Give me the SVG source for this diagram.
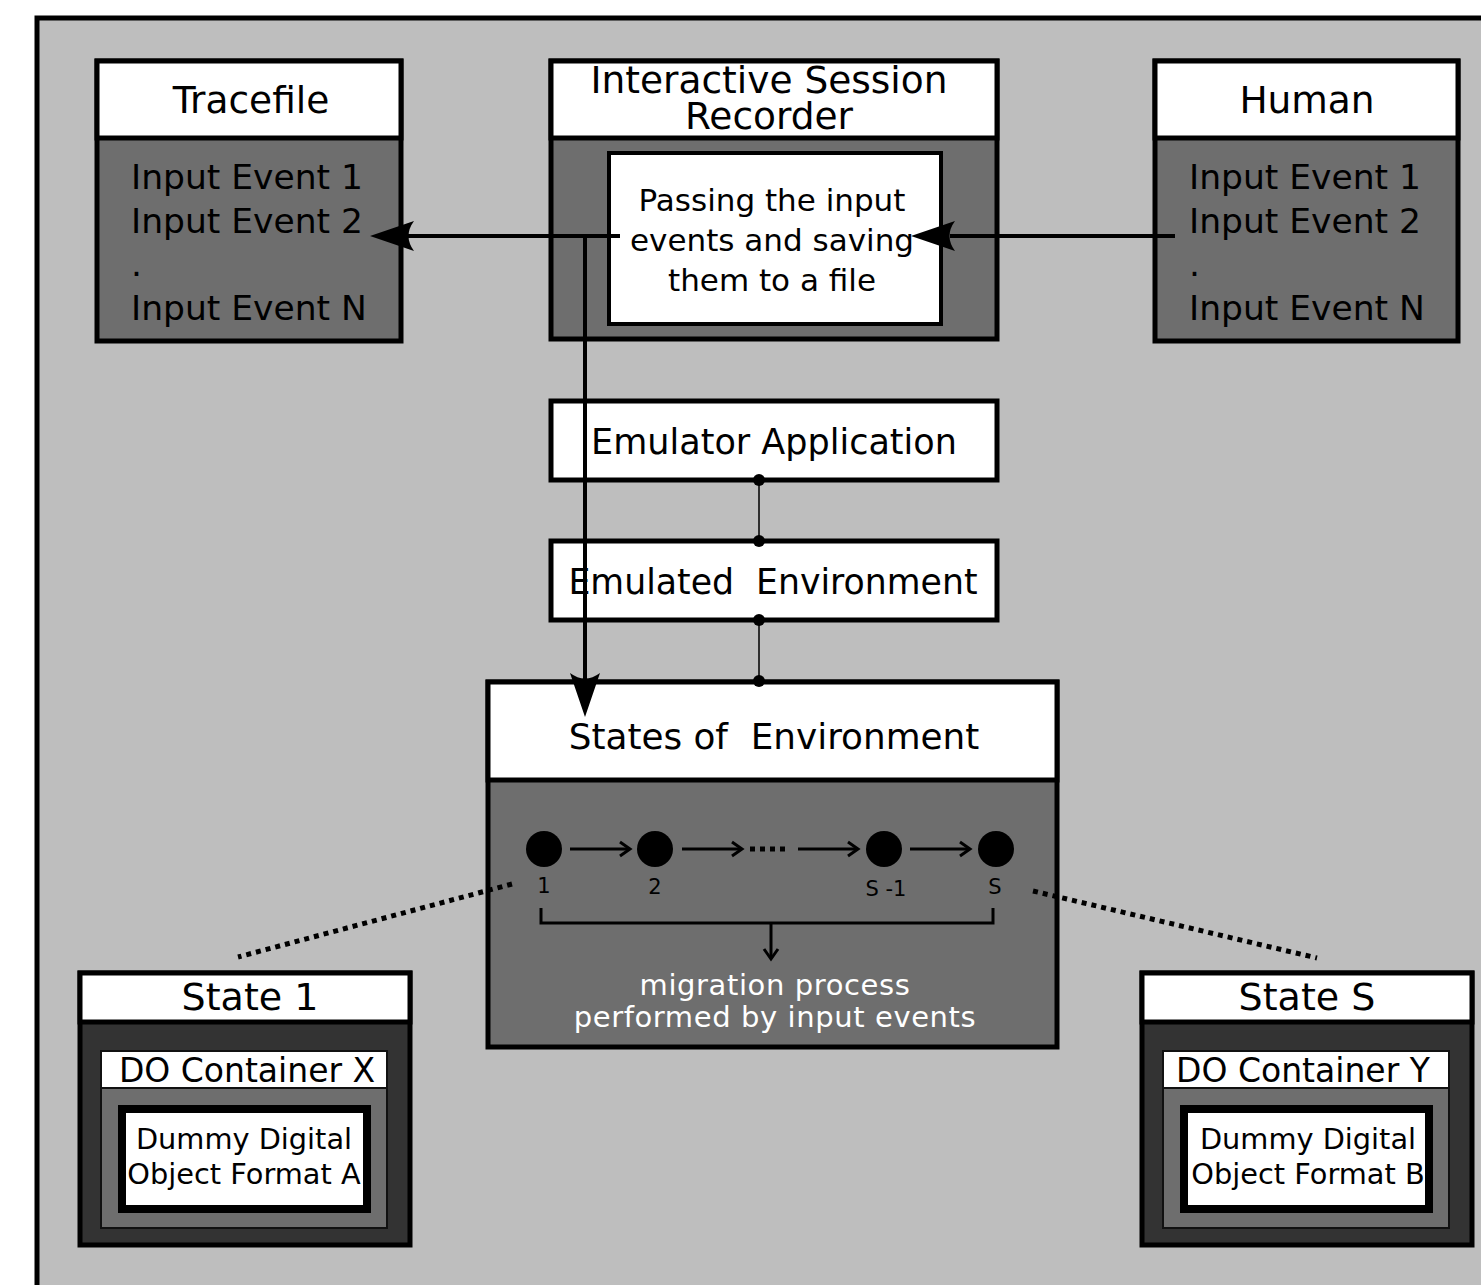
<svg xmlns="http://www.w3.org/2000/svg" xmlns:xlink="http://www.w3.org/1999/xlink" width="1481" height="1285" viewBox="0 0 1481 1285">
<style>
text{font-family:"DejaVu Sans","Liberation Sans",sans-serif;fill:#000}
.box{stroke:#000;stroke-width:5}
.w{fill:#fff}
.g{fill:#6e6e6e}
.d{fill:#333}
.t36{font-size:37.5px;text-anchor:middle}
.t35{font-size:35px;text-anchor:middle}
.t34{font-size:34.5px}
.t30{font-size:31px;text-anchor:middle}
.t28{font-size:28.8px;text-anchor:middle}
.t33{font-size:33px;text-anchor:middle}
.t38{font-size:38px;text-anchor:middle}
.num{font-size:21px;text-anchor:middle}
.mig{font-size:29px;text-anchor:middle;fill:#fff;letter-spacing:0.6px}
.ln{stroke:#000;fill:none}
</style>
<defs>
<path id="ah" d="M0,0 L44,-15 Q33,0 44,15 Z" fill="#000"/>
<path id="chev" d="M-10,-7 L0,0 L-10,7" fill="none" stroke="#000" stroke-width="3"/>
</defs>
<rect x="37" y="18" width="1500" height="1300" fill="#bebebe" stroke="#000" stroke-width="5"/>

<g id="tracefile">
<rect class="box g" x="97" y="61" width="304" height="280"/>
<rect class="box w" x="97" y="61" width="304" height="77"/>
<text class="t36" x="251" y="113">Tracefile</text>
<text class="t34" x="131" y="189">Input Event 1</text>
<text class="t34" x="131" y="233">Input Event 2</text>
<text class="t34" x="131" y="276">.</text>
<text class="t34" x="131" y="320">Input Event N</text>
</g>

<g id="recorder">
<rect class="box g" x="551" y="61" width="446" height="278"/>
<rect class="box w" x="551" y="61" width="446" height="77"/>
<text class="t36" x="769" y="93">Interactive Session<tspan x="769" y="129">Recorder</tspan></text>
<rect x="609" y="153" width="332" height="171" fill="#fff" stroke="#000" stroke-width="4"/>
<text class="t30" x="772" y="211">Passing the input</text>
<text class="t30" x="772" y="251">events and saving</text>
<text class="t30" x="772" y="291">them to a file</text>
</g>

<g id="human">
<rect class="box g" x="1155" y="61" width="303" height="280"/>
<rect class="box w" x="1155" y="61" width="303" height="77"/>
<text class="t36" x="1307" y="113">Human</text>
<text class="t34" x="1189" y="189">Input Event 1</text>
<text class="t34" x="1189" y="233">Input Event 2</text>
<text class="t34" x="1189" y="276">.</text>
<text class="t34" x="1189" y="320">Input Event N</text>
</g>

<g id="emulator-app">
<rect class="box w" x="551" y="401" width="446" height="79"/>
<text class="t35" x="774" y="454">Emulator Application</text>
</g>

<g id="emulated-env">
<rect class="box w" x="551" y="541" width="446" height="79"/>
<text class="t35" x="773" y="594" style="font-size:34.7px;white-space:pre" xml:space="preserve">Emulated  Environment</text>
</g>

<g id="states">
<rect class="box g" x="488" y="682" width="569" height="365"/>
<rect class="box w" x="488" y="682" width="569" height="98"/>
<text class="t35" x="774" y="749" style="font-size:35.8px;white-space:pre" xml:space="preserve">States of  Environment</text>
<circle cx="544" cy="849" r="18"/>
<circle cx="655" cy="849" r="18"/>
<circle cx="884" cy="849" r="18"/>
<circle cx="996" cy="849" r="18"/>
<text class="num" x="544" y="893">1</text>
<text class="num" x="655" y="894">2</text>
<text class="num" x="886" y="896" style="white-space:pre" xml:space="preserve">S -1</text>
<text class="num" x="995" y="894">S</text>
<path class="ln" stroke-width="3" d="M541,908 V923 H993 V908 M771,923 V958"/>
<use xlink:href="#chev" transform="translate(771,959) rotate(90)"/>
<text class="mig" x="775" y="995">migration process</text>
<text class="mig" x="775" y="1027">performed by input events</text>
</g>

<g id="state-1">
<rect class="box d" x="80" y="973" width="330" height="272"/>
<rect class="box w" x="80" y="973" width="330" height="49"/>
<text class="t38" x="250" y="1010">State 1</text>
<rect x="101" y="1051" width="286" height="177" fill="#6e6e6e" stroke="#111" stroke-width="2"/>
<rect x="101" y="1051" width="286" height="37" fill="#fff" stroke="#111" stroke-width="2"/>
<text class="t33" x="247" y="1082">DO Container X</text>
<rect x="122" y="1109" width="245" height="100" fill="#fff" stroke="#000" stroke-width="8"/>
<text class="t28" x="244" y="1149">Dummy Digital</text>
<text class="t28" x="244" y="1184">Object Format A</text>
</g>

<g id="state-s">
<rect class="box d" x="1142" y="973" width="330" height="272"/>
<rect class="box w" x="1142" y="973" width="330" height="49"/>
<text class="t38" x="1307" y="1010">State S</text>
<rect x="1163" y="1051" width="286" height="177" fill="#6e6e6e" stroke="#111" stroke-width="2"/>
<rect x="1163" y="1051" width="286" height="37" fill="#fff" stroke="#111" stroke-width="2"/>
<text class="t33" x="1303" y="1082">DO Container Y</text>
<rect x="1184" y="1109" width="245" height="100" fill="#fff" stroke="#000" stroke-width="8"/>
<text class="t28" x="1308" y="1149">Dummy Digital</text>
<text class="t28" x="1308" y="1184">Object Format B</text>
</g>

<g id="connectors">
<path class="ln" stroke-width="4" d="M1175,236 H950"/>
<use xlink:href="#ah" transform="translate(911,236)"/>
<path class="ln" stroke-width="4" d="M620,236 H405"/>
<use xlink:href="#ah" transform="translate(370,236)"/>
<path class="ln" stroke-width="4" d="M585,236 V680"/>
<use xlink:href="#ah" transform="translate(585,717) rotate(-90)"/>
<path class="ln" stroke-width="1.5" d="M759,480 V541 M759,620 V681"/>
<circle cx="759" cy="480" r="6"/>
<circle cx="759" cy="541" r="6"/>
<circle cx="759" cy="620" r="6"/>
<circle cx="759" cy="681" r="6"/>
<path class="ln" stroke-width="3" d="M570,849 H628 M682,849 H740 M798,849 H856 M910,849 H968"/>
<use xlink:href="#chev" transform="translate(630,849)"/>
<use xlink:href="#chev" transform="translate(742,849)"/>
<use xlink:href="#chev" transform="translate(858,849)"/>
<use xlink:href="#chev" transform="translate(970,849)"/>
<path class="ln" stroke-width="5" stroke-dasharray="5,5" d="M750,849 H788"/>
<path class="ln" stroke-width="5" stroke-dasharray="5,5" d="M512,884 L238,957"/>
<path class="ln" stroke-width="5" stroke-dasharray="5,5" d="M1033,891 L1317,958"/>
</g>
</svg>
